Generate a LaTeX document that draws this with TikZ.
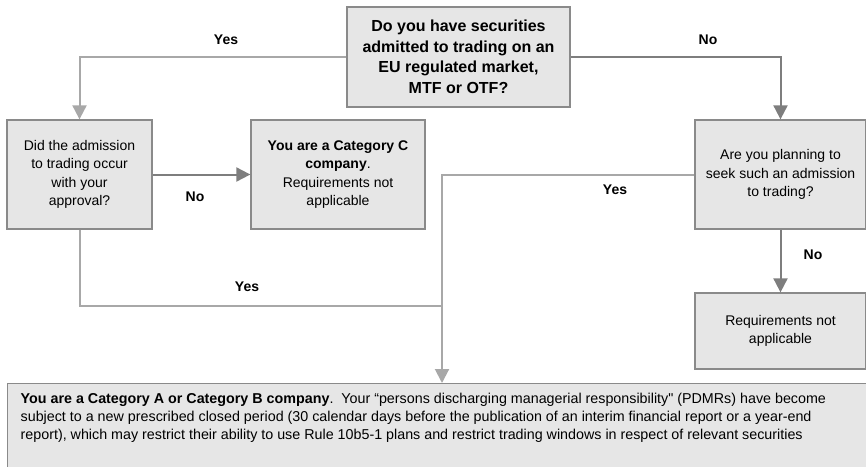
\documentclass[tikz,border=0pt]{standalone}
\usepackage{fontspec}
\setmainfont{Liberation Sans}
\usetikzlibrary{arrows.meta, positioning}

\begin{document}
\begin{tikzpicture}[x=1pt, y=-1pt,
  box/.style={draw=boxline, fill=boxfill, line width=1.3pt, align=center, inner sep=0pt},
  yesline/.style={draw=yescol, line width=2pt, -{Triangle[length=14pt,width=14pt]}},
  noline/.style={draw=nocol, line width=2pt, -{Triangle[length=14pt,width=14pt]}},
  lbl/.style={font=\fontsize{14}{17}\selectfont\bfseries}]

% Define colors
\definecolor{boxfill}{RGB}{230,230,230}
\definecolor{boxline}{RGB}{138,138,138}
\definecolor{yescol}{RGB}{168,168,168}
\definecolor{nocol}{RGB}{126,126,126}

\useasboundingbox (0,0) rectangle (866,466);
\clip (0,0) rectangle (866,466);

% Question boxes
\node[box, minimum width=223pt, minimum height=100pt, font=\fontsize{16}{20.5}\selectfont\bfseries] (q1) at (458.5,57)
  {Do you have securities\\admitted to trading on an\\EU regulated market,\\MTF or OTF?};

\node[box, minimum width=145pt, minimum height=109pt, font=\fontsize{14}{18.5}\selectfont] (q2) at (79.5,174.5)
  {Did the admission\\to trading occur\\with your\\approval?};

\node[box, minimum width=174pt, minimum height=109pt, font=\fontsize{14}{18.5}\selectfont] (catc) at (338,174.5)
  {\textbf{You are a Category C}\\\textbf{company}.\\Requirements not\\applicable};

\node[box, minimum width=171pt, minimum height=109pt, font=\fontsize{14}{18.5}\selectfont] (q3) at (780.5,174.5)
  {Are you planning to\\seek such an admission\\to trading?};

\node[box, minimum width=171pt, minimum height=76pt, font=\fontsize{14}{18.5}\selectfont] (notapp) at (780.5,331)
  {Requirements not\\applicable};

% Bottom result box
\node[box, anchor=north west, align=left, inner xsep=13pt, inner ysep=9pt, font=\fontsize{14.3}{18}\selectfont] (catab) at (7,383)
  {\parbox[t][80pt][t]{845pt}{\textbf{You are a Category A or Category B company}.\ \ Your “persons discharging managerial responsibility\textquotedbl{} (PDMRs) have become\\
  subject to a new prescribed closed period (30 calendar days before the publication of an interim financial report or a year-end\\
  report), which may restrict their ability to use Rule 10b5-1 plans and restrict trading windows in respect of relevant securities}};

% Connectors
\coordinate (join) at (442,306);
\draw[yesline] (q1.west) -| (q2.north);
\draw[noline] (q1.east) -| (q3.north);
\draw[noline] (q2.east) -- (catc.west);
\draw[noline] (q3.south) -- (notapp.north);
\draw[draw=yescol, line width=2pt] (q3.west) -| (join);
\draw[draw=yescol, line width=2pt] (q2.south) |- (join);
\draw[yesline] (join) -- (join |- catab.north);

% Labels
\node[lbl] (yes1) at (226,40) {Yes};
\node[lbl] (no1) at (708,40) {No};
\node[lbl] (no2) at (195,197) {No};
\node[lbl] (yes2) at (615,190) {Yes};
\node[lbl] (yes3) at (247,287) {Yes};
\node[lbl] (no3) at (813,255) {No};

\end{tikzpicture}
\end{document}
